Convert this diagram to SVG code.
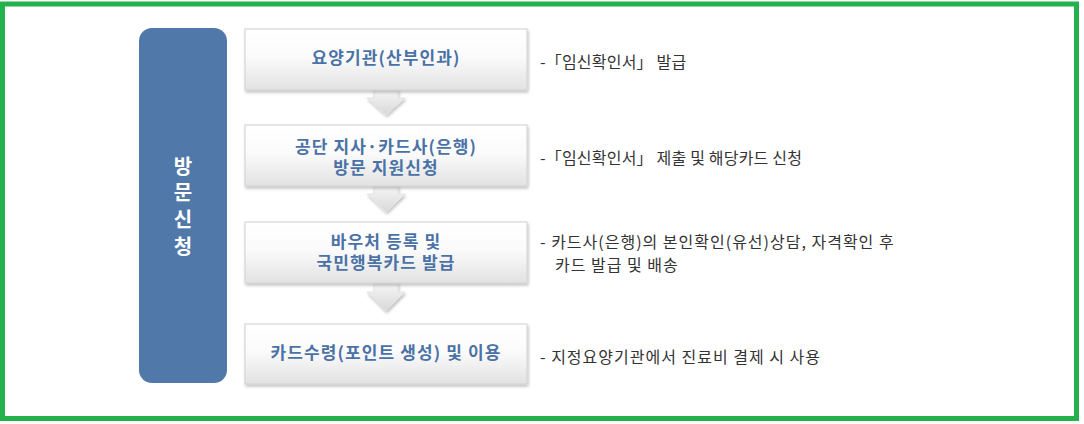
<svg xmlns="http://www.w3.org/2000/svg" width="1084" height="424" viewBox="0 0 1084 424">
<defs>
<linearGradient id="boxg" x1="0" y1="0" x2="0" y2="1">
<stop offset="0" stop-color="#ffffff"/>
<stop offset="0.45" stop-color="#fbfbfb"/>
<stop offset="1" stop-color="#e2e2e2"/>
</linearGradient>
<linearGradient id="arrg" x1="0" y1="0" x2="0" y2="1">
<stop offset="0" stop-color="#f6f6f6"/>
<stop offset="1" stop-color="#d8d8d8"/>
</linearGradient>
<filter id="sh" x="-10%" y="-20%" width="120%" height="150%">
<feDropShadow dx="1" dy="2" stdDeviation="1.5" flood-color="#000" flood-opacity="0.25"/>
</filter>
</defs>
<style>
.box{fill:url(#boxg);stroke:#d0d0d0;stroke-width:1;filter:url(#sh)}
.arr{fill:url(#arrg);stroke:#e2e2e2;stroke-width:0.8;filter:url(#sh)}
.bt{font-family:"Noto Sans CJK KR","Noto Sans",sans-serif;font-weight:bold;font-size:17px;letter-spacing:1.1px;fill:#4a72a6;text-anchor:middle}
.dt{font-family:"Noto Sans CJK KR","Noto Sans",sans-serif;font-size:16px;letter-spacing:1px;fill:#333333}
.dn{letter-spacing:0.2px}
.vt{font-family:"Noto Sans CJK KR","Noto Sans",sans-serif;font-weight:bold;font-size:20px;fill:#ffffff;text-anchor:middle}
</style>
<rect x="0" y="0" width="1084" height="424" fill="#ffffff"/>
<rect x="2.5" y="4" width="1074" height="414.5" fill="none" stroke="#22b14c" stroke-width="5"/>

<g id="side">
<rect x="139" y="28" width="88" height="355" rx="13" fill="#5079a9"/>
<text class="vt"><tspan x="183" y="174">방</tspan><tspan x="183" y="200">문</tspan><tspan x="183" y="227">신</tspan><tspan x="183" y="254">청</tspan></text>
</g>

<g id="connectors">
<path class="arr" d="M374,90 L398,90 L398,98 L405,98 L386,115 L367,98 L374,98 Z"/>
<path class="arr" d="M374,186 L398,186 L398,194 L405,194 L386,212 L367,194 L374,194 Z"/>
<path class="arr" d="M374,283 L398,283 L398,292 L405,292 L386,311 L367,292 L374,292 Z"/>
</g>

<g id="step1">
<rect class="box" x="245" y="29" width="282" height="61"/>
<text class="bt" x="386" y="64">요양기관(산부인과)</text>
</g>
<g id="step2">
<rect class="box" x="245" y="125" width="282" height="61"/>
<text class="bt"><tspan x="386" y="153">공단 지사·카드사(은행)</tspan><tspan x="386" y="173.5">방문 지원신청</tspan></text>
</g>
<g id="step3">
<rect class="box" x="245" y="222" width="282" height="61"/>
<text class="bt"><tspan x="386" y="248">바우처 등록 및</tspan><tspan x="386" y="269">국민행복카드 발급</tspan></text>
</g>
<g id="step4">
<rect class="box" x="245" y="324" width="282" height="60"/>
<text class="bt" x="386" y="359">카드수령(포인트 생성) 및 이용</text>
</g>

<g id="desc">
<text class="dt dn" x="540" y="67.5">-「임신확인서」 발급</text>
<text class="dt dn" x="540" y="163.5">-「임신확인서」 제출 및 해당카드 신청</text>
<text class="dt"><tspan x="540" y="247.5">- 카드사(은행)의 본인확인(유선)상담, 자격확인 후</tspan><tspan x="555" y="270.5">카드 발급 및 배송</tspan></text>
<text class="dt" x="540" y="362.5">- 지정요양기관에서 진료비 결제 시 사용</text>
</g>
</svg>
